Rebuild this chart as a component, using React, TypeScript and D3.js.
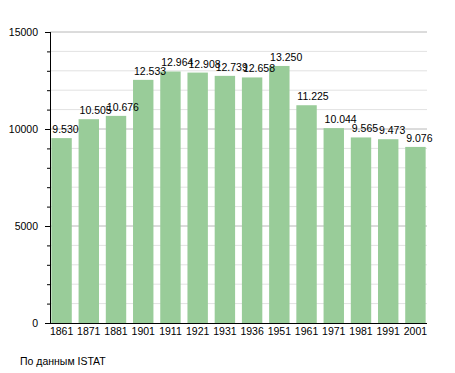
import React from "react";
import * as d3 from "d3";

const years = ["1861","1871","1881","1901","1911","1921","1931","1936","1951","1961","1971","1981","1991","2001"];
const population = [9530,10505,10676,12533,12964,12908,12739,12658,13250,11225,10044,9565,9473,9076];
const yTicks = [0,5000,10000,15000];
const sourceText = "По данным  ISTAT";

const W = 455, H = 373;
const left = 50, right = 427, top = 32, bottom = 323;

export default function App() {
  const x = d3.scaleBand<string>().domain(years).range([left, right]).paddingInner(0.25).paddingOuter(0.05);
  const y = d3.scaleLinear().domain([0, 15000]).range([bottom, top]);
  const minor = d3.range(0, 15001, 1000);
  const fmt = (v: number) => d3.format(",")(v).replace(/,/g, ".");
  const font = "'Liberation Sans', Arial, sans-serif";
  return (
    <svg width={W} height={H} style={{ position: "absolute", left: 0, top: 0, background: "#fff" }} fontFamily={font}>
      {minor.filter(v => v > 0).map(v => (
        <line key={"g" + v} x1={left} x2={right} y1={y(v)} y2={y(v)}
          stroke={v % 5000 === 0 ? "#b8b8b8" : "#e2e2e2"} strokeWidth={1} />
      ))}
      {years.map((yr, i) => (
        <rect key={yr} x={x(yr)} y={y(population[i])} width={x.bandwidth()} height={bottom - y(population[i])} fill="#99cc99" />
      ))}
      {years.map((yr, i) => (
        <text key={"l" + yr} x={(x(yr) as number) + 1} y={y(population[i]) - 5} fontSize={10.5} fill="#000">{fmt(population[i])}</text>
      ))}
      <line x1={left + 0.5} x2={left + 0.5} y1={top} y2={bottom} stroke="#000" />
      {minor.map(v => (
        <line key={"t" + v} x1={v % 5000 === 0 ? left - 5 : left - 3} x2={left} y1={y(v) + 0.5} y2={y(v) + 0.5} stroke="#000" />
      ))}
      <line x1={left - 5} x2={right} y1={bottom + 0.5} y2={bottom + 0.5} stroke="#000" />
      {yTicks.map(v => (
        <text key={"y" + v} x={38} y={y(v) + 4} textAnchor="end" fontSize={10.5} fill="#000">{v}</text>
      ))}
      {years.map(yr => (
        <text key={"x" + yr} x={(x(yr) as number) + x.bandwidth() / 2} y={335} textAnchor="middle" fontSize={10.5} fill="#000">{yr}</text>
      ))}
      <text x={20} y={365} fontSize={10.5} fill="#000">{sourceText}</text>
    </svg>
  );
}
